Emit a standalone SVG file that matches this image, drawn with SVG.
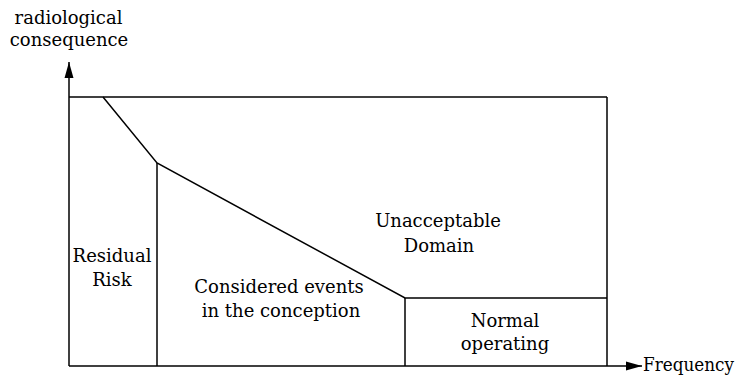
<svg xmlns="http://www.w3.org/2000/svg" width="739" height="376" viewBox="0 0 739 376">
<style>
.t{font-family:'DejaVu Serif','Liberation Serif',serif;font-size:18px;fill:#000}
.c{text-anchor:middle}
line,polyline{stroke:#000;stroke-width:1.5;fill:none}
</style>
<defs>
<marker id="ah" viewBox="0 0 10 10" refX="10" refY="5" markerWidth="16" markerHeight="16" markerUnits="userSpaceOnUse" orient="auto">
<path d="M0,2.2 L10,5 L0,7.8 Z" fill="#000"/>
</marker>
</defs>
<rect width="739" height="376" fill="#fff"/>
<g id="connectors">
<line x1="69" y1="366" x2="69" y2="62" marker-end="url(#ah)"/>
<line x1="69" y1="366" x2="642" y2="366" marker-end="url(#ah)"/>
<line x1="69" y1="97" x2="607" y2="97"/>
<line x1="607" y1="97" x2="607" y2="366"/>
<polyline points="103,97 157,163 405,298 607,298"/>
<line x1="157" y1="163" x2="157" y2="366"/>
<line x1="405" y1="298" x2="405" y2="366"/>
</g>
<g class="t">
<g id="axis-y"><text class="c" x="68.5" y="24">radiological</text><text class="c" x="69" y="46">consequence</text></g>
<g id="axis-x"><text x="643" y="371" textLength="91" lengthAdjust="spacingAndGlyphs">Frequency</text></g>
<g id="unacceptable"><text class="c" x="438" y="227">Unacceptable</text><text class="c" x="439" y="252">Domain</text></g>
<g id="residual"><text class="c" x="112" y="262">Residual</text><text class="c" x="112" y="286">Risk</text></g>
<g id="considered"><text class="c" x="279" y="293">Considered events</text><text class="c" x="281" y="317">in the conception</text></g>
<g id="normal"><text class="c" x="505" y="327">Normal</text><text class="c" x="505" y="350">operating</text></g>
</g>
</svg>
